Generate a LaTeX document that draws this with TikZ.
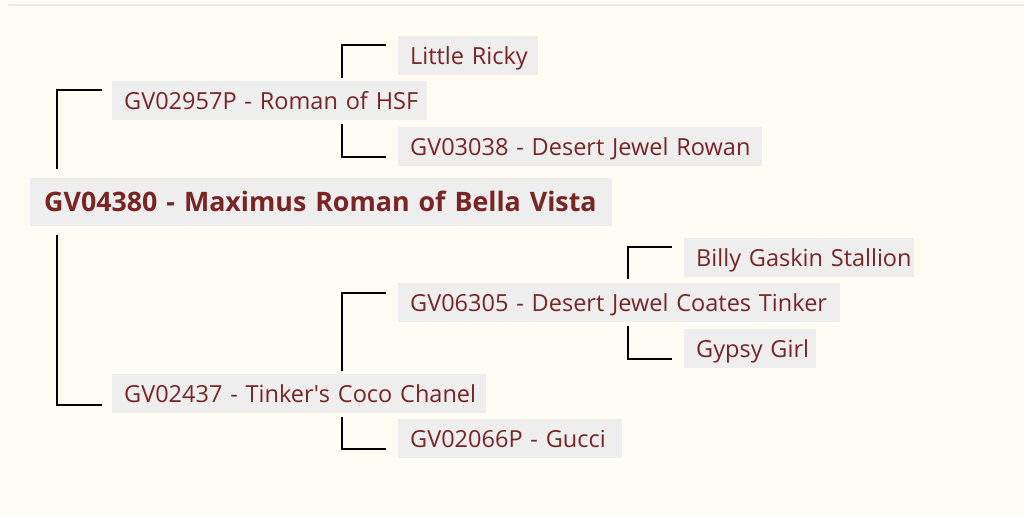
\documentclass[tikz,border=0pt]{standalone}
\usepackage{fontspec}
\setmainfont{Open Sans}
\usetikzlibrary{calc}
\definecolor{bgcream}{HTML}{FFFCF3}
\definecolor{boxgray}{HTML}{EEEEEE}
\definecolor{txtred}{HTML}{7A2424}
\definecolor{rulegray}{HTML}{EBEBEB}
\newcommand{\boxtext}[1]{\mbox{#1}}
\begin{document}
\begin{tikzpicture}[x=1pt,y=-1pt,
  pbox/.style={fill=boxgray, text=txtred, anchor=west, inner xsep=12pt, inner ysep=0pt,
    minimum height=39pt, align=left, text height=22pt, text depth=3pt, font=\fontsize{23.5}{27}\selectfont},
  mainbox/.style={pbox, inner xsep=14pt, minimum height=48pt, text height=21pt, text depth=3pt, font=\fontsize{26.8}{30}\selectfont\bfseries},
  conn/.style={draw=black, line width=2pt}]
\useasboundingbox (0,0) rectangle (1024,514);
\fill[bgcream] (0,0) rectangle (1024,514);
\draw[rulegray, line width=2pt] (8,5) -- (1024,5);

\node[mainbox, text width=554pt] (main) at (30,202) {\boxtext{GV04380 - Maximus Roman of Bella Vista}};
\node[pbox, text width=291pt] (roman) at (112,100) {\boxtext{GV02957P - Roman of HSF}};
\node[pbox, text width=116pt] (lr) at (398,55) {\boxtext{Little Ricky}};
\node[pbox, text width=340pt] (rowan) at (398,146) {\boxtext{GV03038 - Desert Jewel Rowan}};
\node[pbox, text width=350pt] (coco) at (112,393) {\boxtext{GV02437 - Tinker\textquotesingle s Coco Chanel}};
\node[pbox, text width=418pt] (tinker) at (398,302) {\boxtext{GV06305 - Desert Jewel Coates Tinker}};
\node[pbox, text width=200pt] (gucci) at (398,438) {\boxtext{GV02066P - Gucci}};
\node[pbox, text width=206pt] (billy) at (684,257) {\boxtext{Billy Gaskin Stallion}};
\node[pbox, text width=108pt] (gypsy) at (684,348) {\boxtext{Gypsy Girl}};

\draw[conn] ($(main.north -| roman.west)+(-55,-9)$) |- ($(roman.west)+(-10,-10)$);
\draw[conn] ($(main.south -| coco.west)+(-55,9)$) |- ($(coco.west)+(-10,12)$);
\draw[conn] ($(roman.north -| lr.west)+(-56,-2)$) |- ($(lr.west)+(-12,-10)$);
\draw[conn] ($(roman.south -| rowan.west)+(-56,4)$) |- ($(rowan.west)+(-12,11)$);
\draw[conn] ($(coco.north -| tinker.west)+(-56,-2)$) |- ($(tinker.west)+(-12,-9)$);
\draw[conn] ($(coco.south -| gucci.west)+(-56,4)$) |- ($(gucci.west)+(-12,11)$);
\draw[conn] ($(tinker.north -| billy.west)+(-56,-3)$) |- ($(billy.west)+(-12,-10)$);
\draw[conn] ($(tinker.south -| gypsy.west)+(-56,4)$) |- ($(gypsy.west)+(-12,11)$);
\end{tikzpicture}
\end{document}
